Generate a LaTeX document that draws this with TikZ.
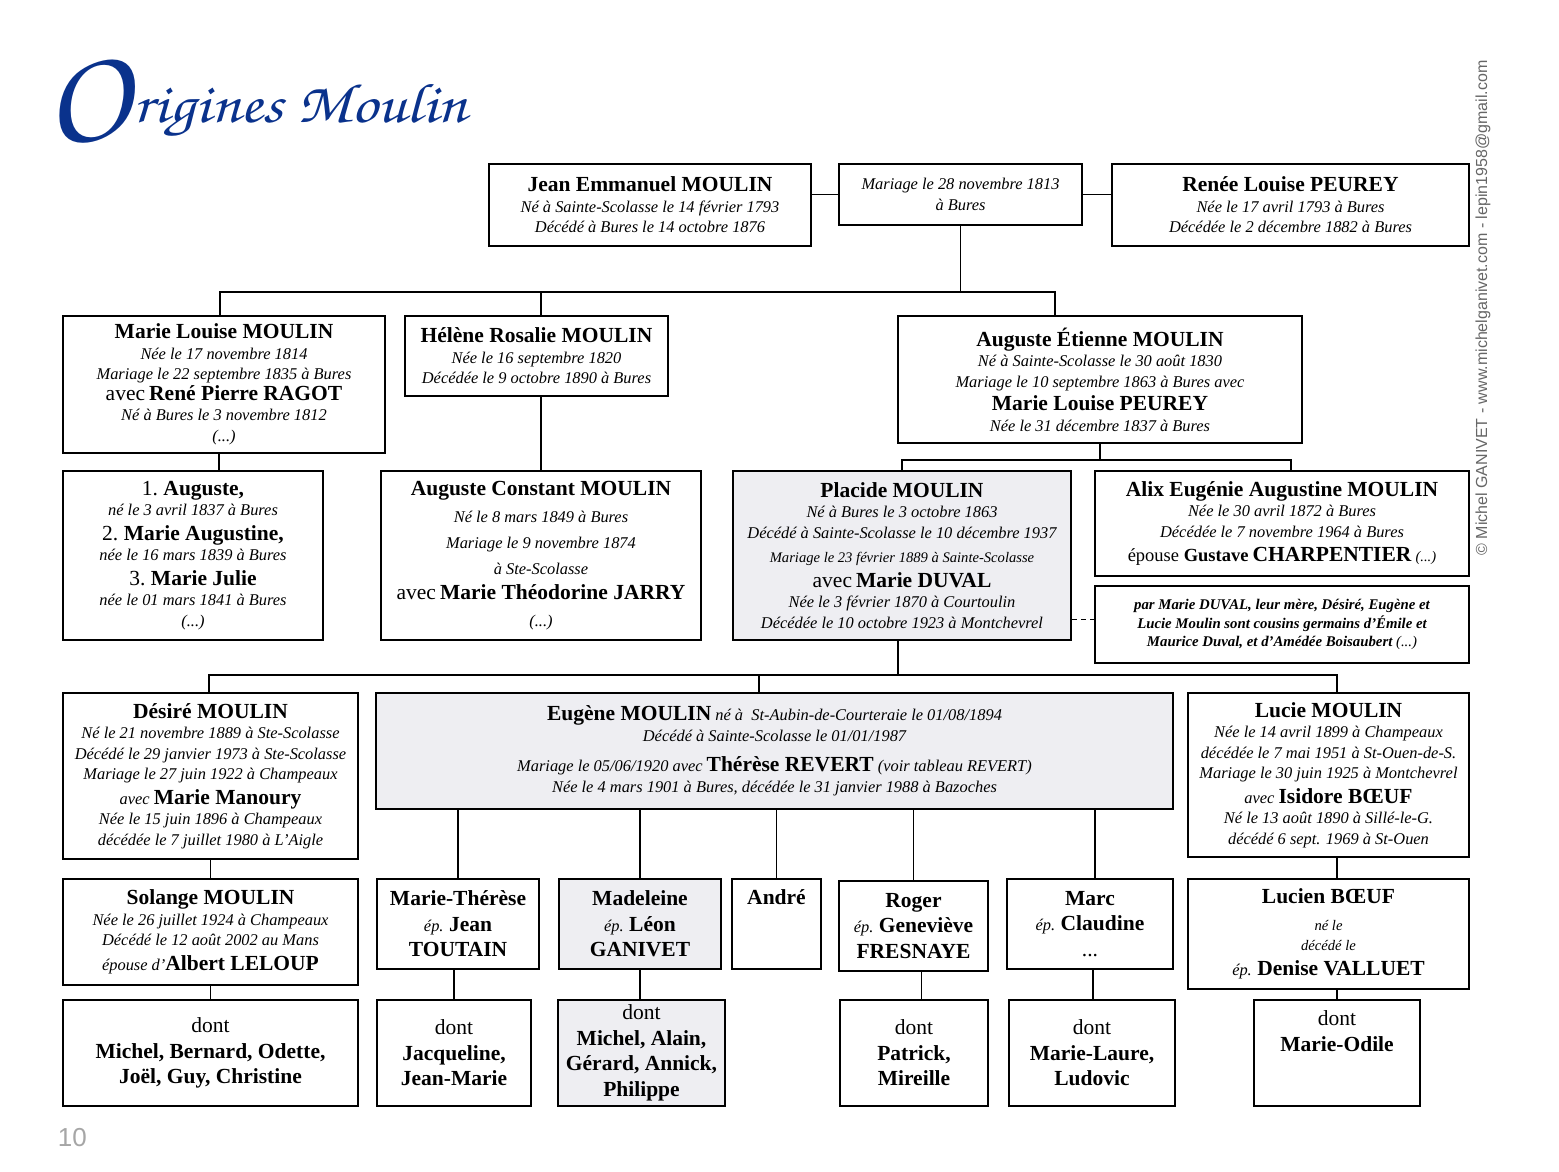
\documentclass[tikz,border=0pt]{standalone}
\usepackage{fontspec}
\setmainfont{Liberation Serif}
\newfontfamily\sansfin{Liberation Sans}
\usepackage{xcolor}
\usepackage{tikz}
\definecolor{titrebleu}{RGB}{10,50,140}
\definecolor{fondgris}{RGB}{238,238,242}
\newcommand\nom[1]{{\fontsize{21.5}{20.5}\selectfont\upshape\bfseries #1}}
\newcommand\rom[1]{{\fontsize{21.5}{20.5}\selectfont\upshape\mdseries #1}}
\newcommand\petit[1]{{\fontsize{14.6}{20.5}\selectfont #1}}

\begin{document}
\begin{tikzpicture}[x=1pt, y=-1pt, line width=1.8pt,
    box/.style={draw, line width=2pt, anchor=north west, align=center, inner sep=2pt,
      font=\fontsize{16.4}{20.5}\selectfont\itshape},
    grisbox/.style={box, fill=fondgris},
    pointille/.style={dash pattern=on 5pt off 4pt}]
    \fill[white] (0,0) rectangle (1559,1171);
    \useasboundingbox (0,0) rectangle (1559,1171);

    \node[anchor=base west, inner sep=0, text=titrebleu,
      font=\usefont{T1}{pzc}{mb}{it}\fontsize{138}{138}\selectfont] (lettrine) at (45,141) {O};
    \node[anchor=base west, inner sep=0, text=titrebleu,
      font=\usefont{T1}{pzc}{mb}{it}\fontsize{56}{56}\selectfont] (titre) at (133,122) {\scalebox{1.15}[1]{rigines Moulin}};
    \node[rotate=90, inner sep=0, text=black!60, font=\sansfin\fontsize{16}{16}\selectfont] (filigrane)
    at (1483,308) {© Michel GANIVET - www.michelganivet.com - lepin1958@gmail.com};
    \node[anchor=base west, inner sep=0, text=black!35, font=\sansfin\fontsize{26}{26}\selectfont] (page)
    at (57,1146) {10};

    % generation 1
    \node[box, minimum width=322, minimum height=82] (jean) at (488,163)
    {\nom{Jean Emmanuel MOULIN}\\ Né à Sainte-Scolasse le 14 février 1793\\ Décédé à Bures le 14 octobre 1876};
    \node[box, minimum width=243, minimum height=61] (mar) at (838,163)
    {Mariage le 28 novembre 1813\\ à Bures};
    \node[box, minimum width=357, minimum height=82] (renee) at (1111,163)
    {\nom{Renée Louise PEUREY}\\ Née le 17 avril 1793 à Bures\\ Décédée le 2 décembre 1882 à Bures};

    % generation 2
    \node[box, minimum width=322, minimum height=137] (ml) at (62,315)
    {\nom{Marie Louise MOULIN}\\ Née le 17 novembre 1814\\ Mariage le 22 septembre 1835 à Bures\\
      \rom{avec} \nom{René Pierre RAGOT}\\ Né à Bures le 3 novembre 1812\\ (...)};
    \node[box, minimum width=263, minimum height=80] (hel) at (404,315)
    {\nom{Hélène Rosalie MOULIN}\\ Née le 16 septembre 1820\\ Décédée le 9 octobre 1890 à Bures};
    \node[box, minimum width=404, minimum height=127] (aug) at (897,315)
    {\nom{Auguste Étienne MOULIN}\\ Né à Sainte-Scolasse le 30 août 1830\\
      Mariage le 10 septembre 1863 à Bures avec\\[3pt] \nom{Marie Louise PEUREY}\\ Née le 31 décembre 1837 à Bures};

    % generation 3
    \node[box, minimum width=260, minimum height=169] (enf) at (62,470)
    {\rom{1.} \nom{Auguste,}\\ né le 3 avril 1837 à Bures\\[4pt] \rom{2.} \nom{Marie Augustine,}\\
      née le 16 mars 1839 à Bures\\[4pt] \rom{3.} \nom{Marie Julie}\\ née le 01 mars 1841 à Bures\\ (...)};
    \node[box, minimum width=320, minimum height=169] (acm) at (380,470)
    {\nom{Auguste Constant MOULIN}\\[6pt] Né le 8 mars 1849 à Bures\\[6pt] Mariage le 9 novembre 1874\\[5pt]
      à Ste-Scolasse\\[5pt] \rom{avec} \nom{Marie Théodorine JARRY}\\[6pt] (...)};
    \node[grisbox, minimum width=338, minimum height=169] (plac) at (732,470)
    {\nom{Placide MOULIN}\\ Né à Bures le 3 octobre 1863\\ Décédé à Sainte-Scolasse le 10 décembre 1937\\[4pt]
      \petit{Mariage le 23 février 1889 à Sainte-Scolasse}\\[4pt] \rom{avec} \nom{Marie DUVAL}\\
      Née le 3 février 1870 à Courtoulin\\ Décédée le 10 octobre 1923 à Montchevrel};
    \node[box, minimum width=374, minimum height=105] (alix) at (1094,470)
    {\nom{Alix Eugénie Augustine MOULIN}\\ Née le 30 avril 1872 à Bures\\ Décédée le 7 novembre 1964 à Bures\\[4pt]
      {\fontsize{18.5}{20.5}\selectfont\upshape épouse \bfseries Gustave} \nom{CHARPENTIER} \petit{(...)}};
    \node[box, minimum width=374, minimum height=77, font=\fontsize{14.8}{18.8}\selectfont\bfseries\itshape] (note) at (1094,585)
    {par Marie DUVAL, leur mère, Désiré, Eugène et\\ Lucie Moulin sont cousins germains d’Émile et\\
      Maurice Duval, et d’Amédée Boisaubert {\mdseries (...)}};

    % generation 4
    \node[box, minimum width=295, minimum height=166] (des) at (62,692)
    {\nom{Désiré MOULIN}\\ Né le 21 novembre 1889 à Ste-Scolasse\\ Décédé le 29 janvier 1973 à Ste-Scolasse\\
      Mariage le 27 juin 1922 à Champeaux\\[4pt] avec \nom{Marie Manoury}\\ Née le 15 juin 1896 à Champeaux\\
      décédée le 7 juillet 1980 à L’Aigle};
    \node[grisbox, minimum width=797, minimum height=116] (eug) at (375,692)
    {\nom{Eugène MOULIN} né à \ St-Aubin-de-Courteraie le 01/08/1894\\ Décédé à Sainte-Scolasse le 01/01/1987\\[10pt]
      Mariage le 05/06/1920 avec \nom{Thérèse REVERT} (voir tableau REVERT)\\
      Née le 4 mars 1901 à Bures, décédée le 31 janvier 1988 à Bazoches};
    \node[box, minimum width=281, minimum height=164] (luc) at (1187,692)
    {\nom{Lucie MOULIN}\\ Née le 14 avril 1899 à Champeaux\\ décédée le 7 mai 1951 à St-Ouen-de-S.\\
      Mariage le 30 juin 1925 à Montchevrel\\[4pt] avec \nom{Isidore BŒUF}\\ Né le 13 août 1890 à Sillé-le-G.\\
      décédé 6 sept. 1969 à St-Ouen};

    % generation 5
    \node[box, minimum width=295, minimum height=106] (sol) at (62,878)
    {\nom{Solange MOULIN}\\ Née le 26 juillet 1924 à Champeaux\\ Décédé le 12 août 2002 au Mans\\[4pt]
      épouse d’\nom{Albert LELOUP}};
    \node[box, minimum width=162, minimum height=90] (mt) at (376,878)
    {\nom{Marie-Thérèse}\\[5pt] ép. \nom{Jean}\\[5pt] \nom{TOUTAIN}};
    \node[grisbox, minimum width=162, minimum height=90] (mad) at (558,878)
    {\nom{Madeleine}\\[5pt] ép. \nom{Léon}\\[5pt] \nom{GANIVET}};
    \node[box, minimum width=89, minimum height=90] (andre) at (731,878)
    {\parbox[c][80pt][t]{80pt}{\centering\vspace*{6pt}\nom{André}}};
    \node[box, minimum width=149, minimum height=90] (rog) at (838,880)
    {\nom{Roger}\\[5pt] ép. \nom{Geneviève}\\[5pt] \nom{FRESNAYE}};
    \node[box, minimum width=166, minimum height=90] (marc) at (1006,878)
    {\nom{Marc}\\[5pt] ép. \nom{Claudine}\\[5pt] \rom{...}};
    \node[box, minimum width=281, minimum height=110] (lucien) at (1187,878)
    {\nom{Lucien BŒUF}\\[6pt] \petit{né le}\\ \petit{décédé le}\\[4pt] ép. \nom{Denise VALLUET}};

    % generation 6
    \node[box, minimum width=295, minimum height=106] (d1) at (62,999)
    {\rom{dont}\\[5pt] \nom{Michel, Bernard, Odette,}\\[5pt] \nom{Joël, Guy, Christine}};
    \node[box, minimum width=154, minimum height=106] (d2) at (376,999)
    {\rom{dont}\\[5pt] \nom{Jacqueline,}\\[5pt] \nom{Jean-Marie}};
    \node[grisbox, minimum width=167, minimum height=106] (d3) at (557,999)
    {\rom{dont}\\[5pt] \nom{Michel, Alain,}\\[5pt] \nom{Gérard, Annick,}\\[5pt] \nom{Philippe}};
    \node[box, minimum width=148, minimum height=106] (d4) at (839,999)
    {\rom{dont}\\[5pt] \nom{Patrick,}\\[5pt] \nom{Mireille}};
    \node[box, minimum width=166, minimum height=106] (d5) at (1008,999)
    {\rom{dont}\\[5pt] \nom{Marie-Laure,}\\[5pt] \nom{Ludovic}};
    \node[box, minimum width=166, minimum height=106] (d6) at (1253,999)
    {\parbox[c][96pt][t]{150pt}{\centering\vspace*{6pt}\rom{dont}\\[5pt] \nom{Marie-Odile}}};

    % liens
    \coordinate (b1g) at (220,292);
    \coordinate (b1m) at (541,292);
    \coordinate (b1d) at (1055,292);
    \coordinate (b2g) at (902,460);
    \coordinate (b2d) at (1291,460);
    \coordinate (b3g) at (209,675);
    \coordinate (b3m) at (759,675);
    \coordinate (b3d) at (1337,675);
    \draw (mar.west) -- (mar.west -| jean.east);
    \draw (mar.east) -- (mar.east -| renee.west);
    \draw (mar.south) -- (mar.south |- b1g);
    \draw (b1g |- ml.north) -- (b1g) -- (b1d) -- (b1d |- aug.north);
    \draw (b1m) -- (b1m |- hel.north);
    \draw ([xshift=-5]ml.south) -- ([xshift=-5]ml.south |- enf.north);
    \draw (acm.north) -- (acm.north |- hel.south);
    \draw (aug.south) -- (aug.south |- b2g);
    \draw (b2g |- plac.north) -- (b2g) -- (b2d) -- (b2d |- alix.north);
    \draw[pointille] ([yshift=-64]plac.east) -- ([yshift=-64]plac.east -| note.west);
    \draw ([xshift=-4]plac.south) -- ([xshift=-4]plac.south |- b3g);
    \draw (b3g |- des.north) -- (b3g) -- (b3d) -- (b3d |- luc.north);
    \draw (b3m) -- (b3m |- eug.north);
    \draw (des.south) -- (sol.north);
    \draw (sol.south) -- (d1.north);
    \draw (mt.north) -- (mt.north |- eug.south);
    \draw (mad.north) -- (mad.north |- eug.south);
    \draw (andre.north) -- (andre.north |- eug.south);
    \draw (rog.north) -- (rog.north |- eug.south);
    \draw ([xshift=5]marc.north) -- ([xshift=5]marc.north |- eug.south);
    \draw (lucien.north -| b3d) -- (luc.south -| b3d);
    \draw (d2.north) -- (d2.north |- mt.south);
    \draw (mad.south) -- (mad.south |- d3.north);
    \draw ([xshift=8]rog.south) -- ([xshift=8]rog.south |- d4.north);
    \draw ([xshift=3]marc.south) -- ([xshift=3]marc.south |- d5.north);
    \draw (d6.north) -- (d6.north |- lucien.south);
\end{tikzpicture}
\end{document}
